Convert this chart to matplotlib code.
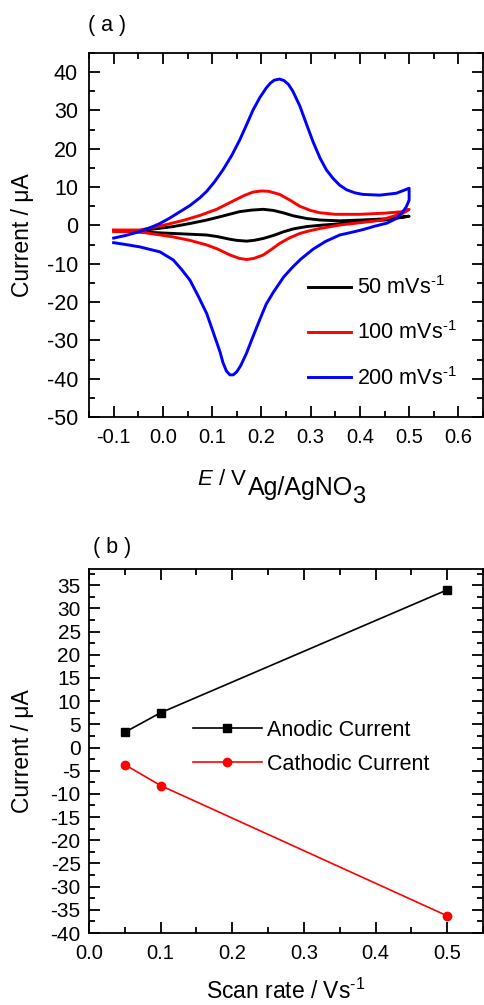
import matplotlib
matplotlib.use('Agg')
import matplotlib.pyplot as plt
from matplotlib.ticker import MultipleLocator

plt.rcParams['font.family'] = ['Liberation Sans', 'DejaVu Sans']
plt.rcParams['mathtext.fontset'] = 'custom'
plt.rcParams['mathtext.rm'] = 'Liberation Sans'
plt.rcParams['mathtext.it'] = 'Liberation Sans:italic'

# ---- (a) cyclic voltammograms ----
# 50 mV/s
e_50_fwd = [-0.100, -0.047, 0.021, 0.055, 0.089, 0.120, 0.156, 0.180, 0.204, 0.225,
            0.244, 0.265, 0.292, 0.320, 0.359, 0.400, 0.450, 0.500]
i_50_fwd = [-1.3, -1.4, -0.3, 0.5, 1.4, 2.4, 3.6, 4.0, 4.2, 3.9,
            3.3, 2.5, 1.8, 1.4, 1.2, 1.4, 1.7, 2.4]
e_50_rev = [0.500, 0.450, 0.400, 0.359, 0.325, 0.292, 0.265, 0.244, 0.225, 0.204,
            0.185, 0.170, 0.150, 0.136, 0.110, 0.089, 0.055, 0.021, -0.047, -0.100]
i_50_rev = [2.4, 1.4, 1.0, 0.4, 0.1, -0.3, -0.9, -1.7, -2.6, -3.4,
            -3.9, -4.1, -3.9, -3.6, -2.9, -2.5, -2.3, -2.1, -1.7, -1.4]

# 100 mV/s
e_100_fwd = [-0.100, -0.047, 0.000, 0.041, 0.075, 0.109, 0.143, 0.165, 0.183, 0.200,
             0.215, 0.237, 0.258, 0.278, 0.300, 0.319, 0.350, 0.400, 0.450, 0.488, 0.500]
i_100_fwd = [-1.2, -1.2, 0.0, 1.3, 2.6, 4.2, 6.4, 7.8, 8.7, 9.0,
             8.9, 8.1, 6.6, 5.0, 3.9, 3.3, 2.9, 2.9, 3.2, 3.6, 4.2]
e_100_rev = [0.500, 0.488, 0.440, 0.400, 0.359, 0.319, 0.298, 0.278, 0.258, 0.237,
             0.220, 0.204, 0.185, 0.170, 0.155, 0.136, 0.110, 0.089, 0.055, 0.021,
             -0.047, -0.100]
i_100_rev = [4.2, 3.2, 1.3, 0.7, 0.1, -0.8, -1.4, -2.1, -3.2, -4.7,
             -6.3, -7.7, -8.6, -8.9, -8.6, -7.7, -6.1, -5.1, -3.9, -3.0,
             -1.7, -1.6]

# 200 mV/s
e_200_fwd = [-0.100, -0.075, -0.047, -0.026, -0.006, 0.015, 0.035, 0.055, 0.075, 0.089,
             0.105, 0.122, 0.140, 0.156, 0.170, 0.183, 0.197, 0.210, 0.218, 0.226,
             0.237, 0.246, 0.255, 0.264, 0.278, 0.292, 0.305, 0.319, 0.332, 0.346,
             0.359, 0.373, 0.390, 0.406, 0.440, 0.474, 0.500]
i_200_fwd = [-3.3, -2.6, -1.6, -0.6, 0.5, 2.0, 3.6, 5.2, 7.2, 8.9,
             11.4, 14.5, 18.3, 22.3, 26.3, 30.1, 33.4, 35.9, 37.1, 37.9,
             38.2, 37.8, 36.8, 35.0, 31.2, 26.3, 21.8, 17.6, 14.5, 12.2,
             10.5, 9.3, 8.5, 8.1, 7.9, 8.4, 9.7]
e_200_rev = [0.500, 0.500, 0.494, 0.485, 0.474, 0.455, 0.430, 0.406, 0.380, 0.359,
             0.330, 0.305, 0.280, 0.264, 0.245, 0.224, 0.210, 0.197, 0.183, 0.170,
             0.158, 0.150, 0.143, 0.136, 0.129, 0.122, 0.116, 0.102, 0.089, 0.072,
             0.055, 0.038, 0.021, -0.006, -0.047, -0.075, -0.100]
i_200_rev = [9.7, 6.6, 4.8, 3.2, 1.8, 0.6, -0.2, -1.1, -1.9, -2.5,
             -4.2, -6.2, -8.8, -10.8, -13.5, -17.5, -20.5, -24.5, -29.0, -33.3,
             -36.6, -38.2, -39.0, -39.0, -38.0, -35.8, -33.0, -27.8, -23.0, -18.5,
             -14.3, -11.5, -9.0, -6.9, -5.6, -5.0, -4.5]

cv_labels = ['50 mVs$^{\\text{-1}}$', '100 mVs$^{\\text{-1}}$', '200 mVs$^{\\text{-1}}$']
cv_colors = ['black', '#ff0000', '#0000ff']

# ---- (b) peak current vs scan rate ----
scan_rate = [0.05, 0.1, 0.5]
anodic = [3.3, 7.5, 34.0]
cathodic = [-3.7, -8.2, -36.3]

W, H = 484, 1005
fig = plt.figure(figsize=(W / 100, H / 100), dpi=100)


def style_axes(ax):
    ax.tick_params(which='both', direction='in', top=True, right=True,
                   width=1.3, pad=8)
    ax.tick_params(axis='x', labelsize=14.5)
    ax.tick_params(axis='y', labelsize=15.5)
    ax.tick_params(which='major', length=8)
    ax.tick_params(which='minor', length=4.5)
    for s in ax.spines.values():
        s.set_linewidth(1.3)


# panel (a)
ax1 = fig.add_axes([89 / W, 1 - 417 / H, 394 / W, 364 / H])
curves = [(e_50_fwd + e_50_rev, i_50_fwd + i_50_rev),
          (e_100_fwd + e_100_rev, i_100_fwd + i_100_rev),
          (e_200_fwd + e_200_rev, i_200_fwd + i_200_rev)]
for (e, i), lab, c in zip(curves, cv_labels, cv_colors):
    ax1.plot(e, i, color=c, lw=2.1, label=lab, solid_joinstyle='round')
ax1.set_xlim(-0.15, 0.65)
ax1.set_ylim(-50, 45)
ax1.xaxis.set_minor_locator(MultipleLocator(0.05))
ax1.yaxis.set_minor_locator(MultipleLocator(5))
ax1.set_xticks([-0.1, 0.0, 0.1, 0.2, 0.3, 0.4, 0.5, 0.6])
ax1.set_xticklabels(['-0.1', '0.0', '0.1', '0.2', '0.3', '0.4', '0.5', '0.6'])
ax1.set_yticks(range(-50, 41, 10))
ax1.set_yticklabels([str(v) for v in range(-50, 41, 10)])
style_axes(ax1)
ax1.set_ylabel('Current / μA', fontsize=16.5)
ax1.yaxis.set_label_coords(-0.14, 0.5)
ax1.legend(loc='upper left', bbox_to_anchor=(0.556, 0.386), frameon=False,
           fontsize=15.5, borderpad=0, borderaxespad=0, handlelength=2.0,
           handletextpad=0.25, labelspacing=1.03)

# x label of (a), built from pieces like the original
renderer = fig.canvas.get_renderer()
t1 = fig.text(197 / W, 1 - 485 / H, r'$\mathit{E}$ / V', fontsize=16,
              ha='left', va='baseline')
bb = t1.get_window_extent(renderer)
t2 = fig.text((bb.x1 + 1) / W, 1 - 495 / H, 'Ag/AgNO', fontsize=18,
              ha='left', va='baseline')
bb = t2.get_window_extent(renderer)
fig.text((bb.x1 - 1) / W, 1 - 503 / H, '3', fontsize=17,
         ha='left', va='baseline')

fig.text(88 / W, 1 - 25 / H, '( a )', fontsize=15.5, ha='left', va='center')

# panel (b)
ax2 = fig.add_axes([89 / W, 1 - 933 / H, 394 / W, 364 / H])
ax2.plot(scan_rate, anodic, color='black', lw=1.2, marker='s', ms=5.5,
         label='Anodic Current')
ax2.plot(scan_rate, cathodic, color='#ff0000', lw=1.2, marker='o', ms=6,
         label='Cathodic Current')
ax2.set_xlim(0.0, 0.55)
ax2.set_ylim(-40, 38.5)
ax2.xaxis.set_minor_locator(MultipleLocator(0.05))
ax2.yaxis.set_minor_locator(MultipleLocator(2.5))
ax2.set_xticks([0.0, 0.1, 0.2, 0.3, 0.4, 0.5])
ax2.set_xticklabels(['0.0', '0.1', '0.2', '0.3', '0.4', '0.5'])
ax2.set_yticks(range(-40, 36, 5))
ax2.set_yticklabels([str(v) for v in range(-40, 36, 5)])
style_axes(ax2)
ax2.tick_params(axis='y', labelsize=15, pad=6)
ax2.set_ylabel('Current / μA', fontsize=16.5)
ax2.yaxis.set_label_coords(-0.14, 0.5)
ax2.set_xlabel('Scan rate / Vs$^{\\text{-1}}$', fontsize=16.5)
ax2.xaxis.set_label_coords(0.5, -0.125)
ax2.legend(loc='upper left', bbox_to_anchor=(0.264, 0.586), frameon=False,
           fontsize=15.5, borderpad=0, borderaxespad=0, handlelength=3.2,
           handletextpad=0.25, labelspacing=0.6)

fig.text(93 / W, 1 - 547 / H, '( b )', fontsize=15.5, ha='left', va='center')

fig.savefig('out.png', dpi=100, facecolor='white')
